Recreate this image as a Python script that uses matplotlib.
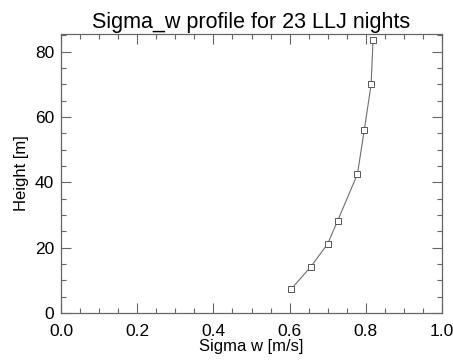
import matplotlib
matplotlib.use("Agg")
import matplotlib.pyplot as plt
from matplotlib.ticker import MultipleLocator

# profile
sigma_w = [0.604, 0.656, 0.700, 0.726, 0.778, 0.796, 0.814, 0.819]
height = [7.3, 14.2, 21.2, 28.2, 42.5, 56.0, 70.0, 83.6]

plt.rcParams['font.family'] = ['Liberation Sans', 'DejaVu Sans']

fig = plt.figure(figsize=(4.53, 3.6), dpi=100)
ax = fig.add_axes([61 / 453, 1 - 313 / 360, 381 / 453, 279 / 360])

ax.plot(sigma_w, height, color="#6e6e6e", lw=0.8, marker="s", ms=3.8,
        mfc="white", mec="#555555", mew=0.7)

ax.set_xlim(0, 1.0)
ax.set_ylim(0, 85.4)
ax.xaxis.set_major_locator(MultipleLocator(0.2))
ax.xaxis.set_minor_locator(MultipleLocator(0.05))
ax.yaxis.set_major_locator(MultipleLocator(20))
ax.yaxis.set_minor_locator(MultipleLocator(5))
ax.xaxis.set_major_formatter(matplotlib.ticker.FormatStrFormatter("%.1f"))

ax.tick_params(which="both", direction="in", top=True, right=True,
               colors="#666666", labelcolor="black", labelsize=12.5, width=0.8)
ax.tick_params(which="major", length=7)
ax.tick_params(axis="x", which="major", pad=8)
ax.tick_params(axis="y", which="major", pad=5)
ax.tick_params(which="minor", length=3.5)
for s in ax.spines.values():
    s.set_color("#666666")
    s.set_linewidth(0.9)

ax.set_title("Sigma_w profile for 23 LLJ nights", fontsize=15.5, pad=4)
ax.set_xlabel("Sigma w [m/s]", fontsize=12, labelpad=0)
ax.set_ylabel("Height [m]", fontsize=12, labelpad=4)

fig.savefig("out.png", dpi=100)
